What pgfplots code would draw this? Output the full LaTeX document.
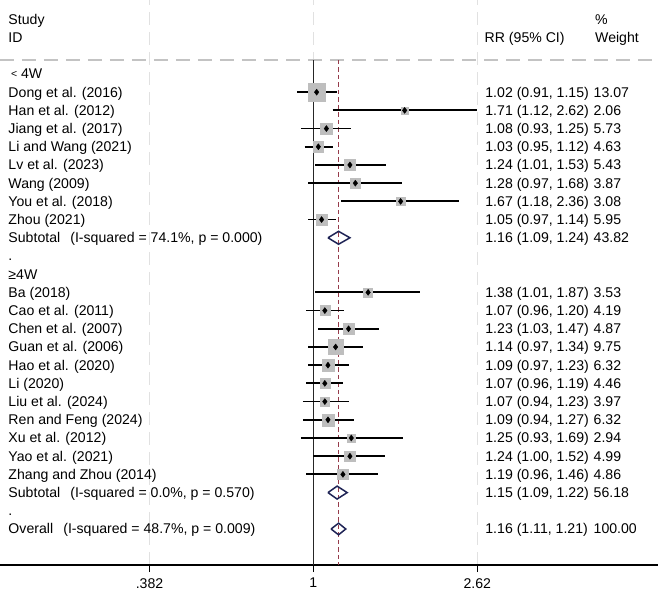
\documentclass[border=0pt]{standalone}
\usepackage{fontspec}
\setmainfont{Liberation Sans}
\usepackage{pgfplots}
\pgfplotsset{compat=1.18}
\usepackage{pgfplotstable}
\definecolor{sqgray}{RGB}{190,190,190}
\definecolor{refred}{RGB}{150,60,75}
\definecolor{dianavy}{RGB}{30,35,85}
\definecolor{sepgray}{RGB}{195,195,195}
\definecolor{gridgray}{RGB}{225,225,225}

% y = -row index
\pgfplotstableread{
y rr lo hi w
-1 1.02 0.91 1.15 13.07
-2 1.71 1.12 2.62 2.06
-3 1.08 0.93 1.25 5.73
-4 1.03 0.95 1.12 4.63
-5 1.24 1.01 1.53 5.43
-6 1.28 0.97 1.68 3.87
-7 1.67 1.18 2.36 3.08
-8 1.05 0.97 1.14 5.95
-12 1.38 1.01 1.87 3.53
-13 1.07 0.96 1.20 4.19
-14 1.23 1.03 1.47 4.87
-15 1.14 0.97 1.34 9.75
-16 1.09 0.97 1.23 6.32
-17 1.07 0.96 1.19 4.46
-18 1.07 0.94 1.23 3.97
-19 1.09 0.94 1.27 6.32
-20 1.25 0.93 1.69 2.94
-21 1.24 1.00 1.52 4.99
-22 1.19 0.96 1.46 4.86
}\studies

\begin{document}
\begin{tikzpicture}[font=\fontsize{14.1}{17}\selectfont]
\useasboundingbox (0pt,-26pt) rectangle (658pt,565pt);
\begin{axis}[
  at={(0,0)}, anchor=south west,
  width=658pt, height=565pt, scale only axis,
  xmode=log, xmin=0.1587, xmax=7.578,
  ymin=-26.978, ymax=4.066,
  axis x line=bottom, axis y line=none,
  x axis line style={-, line width=1.3pt, black},
  xtick={0.382,1,2.62}, xticklabels={.382,1,2.62},
  minor xtick={},
  tick align=outside, major tick length=7pt,
  every tick/.style={black, line width=1.3pt},
  xmajorgrids,
  grid style={gridgray, line width=1.1pt, dash pattern=on 13pt off 7pt},
  x tick label style={font=\fontsize{14.1}{17}\selectfont, inner sep=0pt, anchor=north},
  xticklabel shift=6pt,
  clip=false,
]
% separator
\addplot[sepgray, line width=1.3pt, dash pattern=on 14pt off 8pt] coordinates {(0.1587,0.77) (7.578,0.77)};
% null line
\addplot[black!85, line width=1.5pt] coordinates {(1,0.77) (1,-26.978)};
% overall line
\addplot[refred, line width=1.1pt, dash pattern=on 4.5pt off 3pt] coordinates {(1.16,0.77) (1.16,-26.978)};
% weight squares
\addplot[scatter, only marks, mark=square*,
  scatter/use mapped color={draw=sqgray, fill=sqgray},
  visualization depends on={2.4*sqrt(\thisrow{w}) \as \msz},
  scatter/@pre marker code/.append style={/tikz/mark size=\msz}]
  table[x=rr, y=y] {\studies};
% confidence intervals
\addplot[black, line width=1.8pt, unbounded coords=jump] coordinates {
(0.91,-1) (1.15,-1) (nan,nan)
(1.12,-2) (2.62,-2) (nan,nan)
(0.93,-3) (1.25,-3) (nan,nan)
(0.95,-4) (1.12,-4) (nan,nan)
(1.01,-5) (1.53,-5) (nan,nan)
(0.97,-6) (1.68,-6) (nan,nan)
(1.18,-7) (2.36,-7) (nan,nan)
(0.97,-8) (1.14,-8) (nan,nan)
(1.01,-12) (1.87,-12) (nan,nan)
(0.96,-13) (1.20,-13) (nan,nan)
(1.03,-14) (1.47,-14) (nan,nan)
(0.97,-15) (1.34,-15) (nan,nan)
(0.97,-16) (1.23,-16) (nan,nan)
(0.96,-17) (1.19,-17) (nan,nan)
(0.94,-18) (1.23,-18) (nan,nan)
(0.94,-19) (1.27,-19) (nan,nan)
(0.93,-20) (1.69,-20) (nan,nan)
(1.00,-21) (1.52,-21) (nan,nan)
(0.96,-22) (1.46,-22)
};
% point estimates
\addplot[only marks, mark=diamond*, mark size=3pt, black]
  table[x=rr, y=y] {\studies};
% pooled diamonds
\addplot[dianavy, line width=1.5pt, line join=miter] coordinates {(1.09,-9) (1.16,-8.645) (1.24,-9) (1.16,-9.355) (1.09,-9)};
\addplot[dianavy, line width=1.5pt, line join=miter] coordinates {(1.09,-23) (1.15,-22.645) (1.22,-23) (1.15,-23.355) (1.09,-23)};
\addplot[dianavy, line width=1.5pt, line join=miter] coordinates {(1.11,-25) (1.16,-24.68) (1.21,-25) (1.16,-25.32) (1.11,-25)};
\end{axis}

% left column text
\foreach \k/\lab in {
 -3/Study, -2/ID, 0/{\hspace{2.5pt}\raisebox{1.3pt}{\fontsize{10.5}{12}\selectfont<}\hspace{4pt}4W},
 1/{Dong et al. (2016)}, 2/{Han et al. (2012)}, 3/{Jiang et al. (2017)},
 4/{Li and Wang (2021)}, 5/{Lv et al. (2023)}, 6/{Wang (2009)},
 7/{You et al. (2018)}, 8/{Zhou (2021)},
 9/{Subtotal\hspace{0.72em}(I-squared = 74.1\%, p = 0.000)},
 10/{.}, 11/{≥4W},
 12/{Ba (2018)}, 13/{Cao et al. (2011)}, 14/{Chen et al. (2007)},
 15/{Guan et al. (2006)}, 16/{Hao et al. (2020)}, 17/{Li (2020)},
 18/{Liu et al. (2024)}, 19/{Ren and Feng (2024)}, 20/{Xu et al. (2012)},
 21/{Yao et al. (2021)}, 22/{Zhang and Zhou (2014)},
 23/{Subtotal\hspace{0.72em}(I-squared = 0.0\%, p = 0.570)},
 24/{.},
 25/{Overall\hspace{0.72em}(I-squared = 48.7\%, p = 0.009)}}
 \node[anchor=base west, inner sep=0pt] at (8.3pt, {(486-18.2*(\k))*1pt}) {\lab};

% right columns
\node[anchor=base west, inner sep=0pt] at (595pt, {(486-18.2*(-3))*1pt}) {\%};
\node[anchor=base west, inner sep=0pt] at (484.5pt, {(486-18.2*(-2))*1pt}) {RR (95\% CI)};
\node[anchor=base west, inner sep=0pt] at (595pt, {(486-18.2*(-2))*1pt}) {Weight};
\foreach \k/\ci/\w in {
 1/{1.02 (0.91, 1.15)}/13.07, 2/{1.71 (1.12, 2.62)}/2.06,
 3/{1.08 (0.93, 1.25)}/5.73, 4/{1.03 (0.95, 1.12)}/4.63,
 5/{1.24 (1.01, 1.53)}/5.43, 6/{1.28 (0.97, 1.68)}/3.87,
 7/{1.67 (1.18, 2.36)}/3.08, 8/{1.05 (0.97, 1.14)}/5.95,
 9/{1.16 (1.09, 1.24)}/43.82,
 12/{1.38 (1.01, 1.87)}/3.53, 13/{1.07 (0.96, 1.20)}/4.19,
 14/{1.23 (1.03, 1.47)}/4.87, 15/{1.14 (0.97, 1.34)}/9.75,
 16/{1.09 (0.97, 1.23)}/6.32, 17/{1.07 (0.96, 1.19)}/4.46,
 18/{1.07 (0.94, 1.23)}/3.97, 19/{1.09 (0.94, 1.27)}/6.32,
 20/{1.25 (0.93, 1.69)}/2.94, 21/{1.24 (1.00, 1.52)}/4.99,
 22/{1.19 (0.96, 1.46)}/4.86, 23/{1.15 (1.09, 1.22)}/56.18,
 25/{1.16 (1.11, 1.21)}/100.00}
 {\node[anchor=base west, inner sep=0pt] at (485.2pt, {(486-18.2*(\k))*1pt}) {\ci};
  \node[anchor=base west, inner sep=0pt] at (593.5pt, {(486-18.2*(\k))*1pt}) {\w};}
\end{tikzpicture}
\end{document}
